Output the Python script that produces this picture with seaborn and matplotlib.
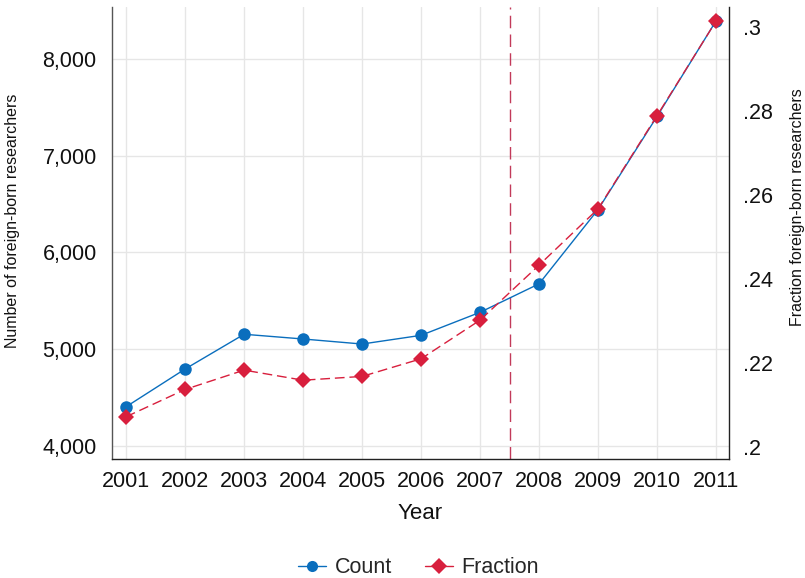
import matplotlib
matplotlib.use("Agg")
import matplotlib.pyplot as plt
import seaborn as sns
import pandas as pd
from matplotlib.lines import Line2D

years = [2001, 2002, 2003, 2004, 2005, 2006, 2007, 2008, 2009, 2010, 2011]
count = [4406, 4796, 5155, 5106, 5054, 5144, 5382, 5676, 6444, 7406, 8393]
fraction = [0.2072, 0.2137, 0.2183, 0.2159, 0.2168, 0.2210, 0.2302, 0.2433, 0.2567, 0.2789, 0.3014]
left_ticks = [4000, 5000, 6000, 7000, 8000]
left_labels = ["4,000", "5,000", "6,000", "7,000", "8,000"]
right_ticks = [0.20, 0.22, 0.24, 0.26, 0.28, 0.30]
right_labels = [".2", ".22", ".24", ".26", ".28", ".3"]
break_year = 2007.5

df = pd.DataFrame({"Year": years, "Count": count, "Fraction": fraction})

sns.set_theme(style="white")
plt.rcParams["font.family"] = ["Liberation Sans", "DejaVu Sans"]

BLUE = "#0a6ebd"
RED = "#d81f3d"
TXT = "#111111"

fig = plt.figure(figsize=(8.05, 5.78), dpi=100)
ax = fig.add_axes([0.1391, 0.2059, 0.7665, 0.782])
ax2 = ax.twinx()

sns.lineplot(data=df, x="Year", y="Count", ax=ax, color=BLUE, linewidth=1.0,
             marker="o", markersize=9, markeredgewidth=0, zorder=3)
sns.lineplot(data=df, x="Year", y="Fraction", ax=ax2, color=RED, linewidth=1.0,
             marker="D", markersize=8.5, markeredgewidth=0, zorder=3)
ax2.lines[0].set_linestyle((0, (7, 3.5)))

ax.axvline(break_year, color="#c23a5a", linewidth=1.0, linestyle=(0, (9, 4.5)), zorder=2)

ax.set_xlim(2000.76, 2011.22)
ax.set_ylim(3866, 8537)
ax2.set_ylim(0.19714, 0.30476)

ax.set_xticks(years)
ax.set_xticklabels([str(y) for y in years], fontsize=15.5)
ax.set_yticks(left_ticks)
ax.set_yticklabels(left_labels, fontsize=15.5)
ax2.set_yticks(right_ticks)
ax2.set_yticklabels(right_labels, fontsize=15.5)

ax.grid(True, color="#e6e6e6", linewidth=1.0)
ax.set_axisbelow(True)
ax2.grid(False)

ax.tick_params(axis="x", length=0, pad=9, colors=TXT)
ax.tick_params(axis="y", length=0, pad=11, colors=TXT)
ax2.tick_params(axis="y", length=0, pad=10, colors=TXT)

ax.set_xlabel("Year", fontsize=16, color=TXT)
ax.set_ylabel("Number of foreign-born researchers", fontsize=11.5, color=TXT)
ax2.set_ylabel("Fraction foreign-born researchers", fontsize=11.5, color=TXT)
ax.xaxis.set_label_coords(0.5, -0.097)
ax.yaxis.set_label_coords(-0.149, 0.527)
ax2.yaxis.set_label_coords(1.099, 0.557)

for a in (ax, ax2):
    a.spines["top"].set_visible(False)
ax.spines["left"].set_color("#555555")
ax.spines["bottom"].set_color("#222222")
ax2.spines["left"].set_visible(False)
ax2.spines["bottom"].set_visible(False)
ax2.spines["right"].set_color("#222222")
for s in ("left", "bottom"):
    ax.spines[s].set_linewidth(1.0)
ax2.spines["right"].set_linewidth(1.0)
ax.spines["right"].set_visible(False)

handles = [
    Line2D([], [], color=BLUE, linewidth=1.0, marker="o", markersize=8, markeredgewidth=0),
    Line2D([], [], color=RED, linewidth=1.0, marker="D", markersize=8, markeredgewidth=0),
]
fig.legend(handles, ["Count", "Fraction"], loc="center", bbox_to_anchor=(0.52, 0.018),
           ncol=2, frameon=False, fontsize=15.5, handlelength=1.3, columnspacing=1.5,
           handletextpad=0.4)

fig.savefig("out.png", dpi=100)
